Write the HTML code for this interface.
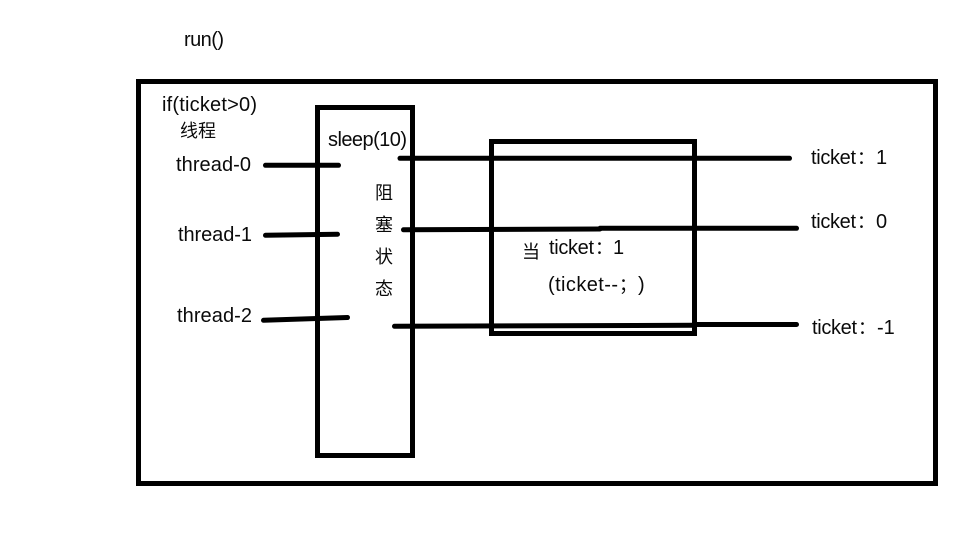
<!DOCTYPE html>
<html>
<head>
<meta charset="utf-8">
<style>
html,body{margin:0;padding:0;background:#fff;}
body{width:977px;height:539px;overflow:hidden;}
svg{display:block;}
text{font-family:"Liberation Sans","Noto Sans CJK SC",sans-serif;font-size:20px;fill:#0a0a0a;}
text.c{font-size:18px;}
</style>
</head>
<body>
<svg width="977" height="539" viewBox="0 0 977 539" xmlns="http://www.w3.org/2000/svg">
<rect x="0" y="0" width="977" height="539" fill="#fff"/>
<g fill="none" stroke="#000" stroke-width="5">
<rect x="138.500" y="81.500" width="797" height="402"/>
<rect x="317.500" y="107.500" width="95" height="348"/>
<rect x="491.500" y="141.500" width="203" height="192"/>
</g>
<g stroke="#000" stroke-width="5" fill="none" stroke-linecap="round">
<line x1="265.500" y1="165.300" x2="338.500" y2="165.300"/>
<line x1="265.500" y1="235.300" x2="337.500" y2="234.300"/>
<line x1="263.500" y1="320.300" x2="347.500" y2="317.500"/>
<line x1="400" y1="158.300" x2="789.500" y2="158.300"/>
<line x1="403.500" y1="229.800" x2="600" y2="229"/>
<line x1="600" y1="228.300" x2="796.500" y2="228.300"/>
<line x1="394.500" y1="326.300" x2="695" y2="325.300"/>
<line x1="695" y1="324.500" x2="796.500" y2="324.500"/>
</g>
<text x="184" y="46" textLength="40">run()</text>
<text x="162" y="111" textLength="95">if(ticket&gt;0)</text>
<text class="c" x="180" y="137">线程</text>
<text x="176" y="171" textLength="75">thread-0</text>
<text x="178" y="241" textLength="74">thread-1</text>
<text x="177" y="322" textLength="75">thread-2</text>
<text x="328" y="146" textLength="79">sleep(10)</text>
<text class="c" x="375" y="199">阻</text>
<text class="c" x="375" y="231">塞</text>
<text class="c" x="375" y="263">状</text>
<text class="c" x="375" y="295">态</text>
<text class="c" x="522" y="258">当</text>
<text x="549" y="254" textLength="45">ticket</text>
<text class="c" x="595" y="254">：</text>
<text x="613" y="254">1</text>
<text x="548" y="291" textLength="70">(ticket--</text>
<text class="c" x="619" y="291">；</text>
<text x="638" y="291">)</text>
<text x="811" y="164" textLength="45">ticket</text>
<text class="c" x="857" y="164">：</text>
<text x="876" y="164">1</text>
<text x="811" y="228" textLength="45">ticket</text>
<text class="c" x="857" y="228">：</text>
<text x="876" y="228">0</text>
<text x="812" y="334" textLength="45">ticket</text>
<text class="c" x="858" y="334">：</text>
<text x="877" y="334">-1</text>
</svg>
</body>
</html>
